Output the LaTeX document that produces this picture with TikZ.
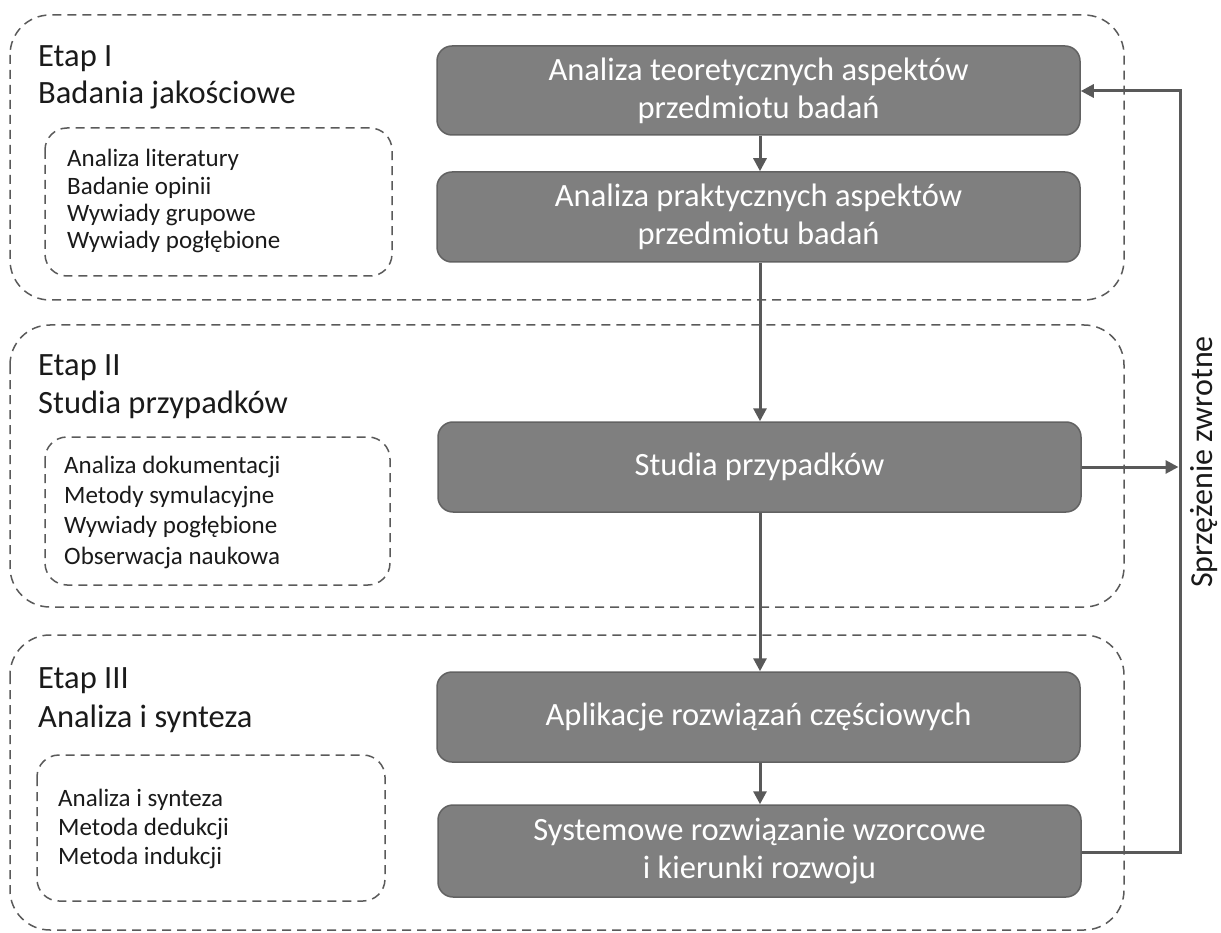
\documentclass[tikz,border=0pt]{standalone}
\usepackage{fontspec}
\setmainfont{Carlito}
\usetikzlibrary{arrows.meta}
\definecolor{boxfill}{HTML}{7F7F7F}
\definecolor{boxedge}{HTML}{626262}
\definecolor{linkcol}{HTML}{595959}
\definecolor{dashcol}{HTML}{5A5A5A}
\definecolor{txt}{HTML}{1A1A1A}
\begin{document}
\begin{tikzpicture}[x=1pt,y=-1pt,
  stagebox/.style={draw=dashcol, line width=1.5pt, dash pattern=on 9pt off 6pt, rounded corners=40pt},
  methodbox/.style={draw=dashcol, line width=1.5pt, dash pattern=on 9pt off 6pt, rounded corners=22pt},
  stepbox/.style={draw=boxedge, line width=1.5pt, fill=boxfill, rounded corners=15pt,
    minimum width=643pt, align=center, text=white, inner sep=0pt,
    font=\fontsize{32.5}{38}\selectfont},
  heading/.style={anchor=base west, text=txt, inner sep=0pt, font=\fontsize{32.5}{38}\selectfont},
  method/.style={anchor=base west, text=txt, inner sep=0pt, font=\fontsize{25}{29}\selectfont},
  link/.style={draw=linkcol, line width=3pt, -{Triangle[length=13pt,width=13pt]}},
  plainlink/.style={draw=linkcol, line width=3pt}
]
\useasboundingbox (0,0) rectangle (1221,933);

% stage frames
\draw[stagebox] (10,15) rectangle (1124,300);
\draw[stagebox] (10,325) rectangle (1124,607);
\draw[stagebox] (10,635) rectangle (1124,930);

% method frames
\draw[methodbox] (45,128) rectangle (392,276);
\draw[methodbox] (45,437) rectangle (390,585);
\draw[methodbox] (37,755) rectangle (385,901);

% stage headings
\node[heading] (h1a) at (38,67) {Etap I};
\node[heading] (h1b) at (38,104) {Badania jakościowe};
\node[heading] (h2a) at (38,375) {Etap II};
\node[heading] (h2b) at (38,413) {Studia przypadków};
\node[heading] (h3a) at (38,688) {Etap III};
\node[heading] (h3b) at (38,727) {Analiza i synteza};

% methods
\node[method] (m11) at (67,167) {Analiza literatury};
\node[method] (m12) at (67,195) {Badanie opinii};
\node[method] (m13) at (67,222) {Wywiady grupowe};
\node[method] (m14) at (67,249) {Wywiady pogłębione};

\node[method] (m21) at (64,473) {Analiza dokumentacji};
\node[method] (m22) at (64,503) {Metody symulacyjne};
\node[method] (m23) at (64,533) {Wywiady pogłębione};
\node[method] (m24) at (64,564) {Obserwacja naukowa};

\node[method] (m31) at (58,806) {Analiza i synteza};
\node[method] (m32) at (58,835) {Metoda dedukcji};
\node[method] (m33) at (58,864) {Metoda indukcji};

% process steps
\node[stepbox, minimum height=89pt] (s1) at (758.5,90.5) {Analiza teoretycznych aspektów\\przedmiotu badań};
\node[stepbox, minimum height=90pt] (s2) at (758.5,217) {Analiza praktycznych aspektów\\przedmiotu badań};
\node[stepbox, minimum height=90pt] (s3) at (759.5,467) {Studia przypadków};
\node[stepbox, minimum height=90pt] (s4) at (758.5,717) {Aplikacje rozwiązań częściowych};
\node[stepbox, minimum height=92pt] (s5) at (759.5,851) {Systemowe rozwiązanie wzorcowe\\i kierunki rozwoju};

% feedback loop corners
\coordinate (fbBot) at (1180,852);
\coordinate (fbTop) at (1180,91);
\coordinate (fbIn) at (1181.5,467);

% flow
\draw[link] (s1.south -| 760,0) -- (s2.north -| 760,0);
\draw[link] (s2.south -| 760,0) -- (s3.north -| 760,0);
\draw[link] (s3.south -| 760,0) -- (s4.north -| 760,0);
\draw[link] (s4.south -| 760,0) -- (s5.north -| 760,0);

\draw[plainlink, line join=miter] (s5.east |- fbBot) -- (fbBot) -- (fbTop) -- ++(-1.5,0);
\draw[link] (fbTop) -- (s1.east |- fbTop);
\draw[link] (s3.east |- fbIn) -- (fbIn -| 1178.5,0);

\node[rotate=90, anchor=base, text=txt, inner sep=0pt, font=\fontsize{32}{36}\selectfont] (fb) at (1212,462) {Sprzężenie zwrotne};
\end{tikzpicture}
\end{document}
